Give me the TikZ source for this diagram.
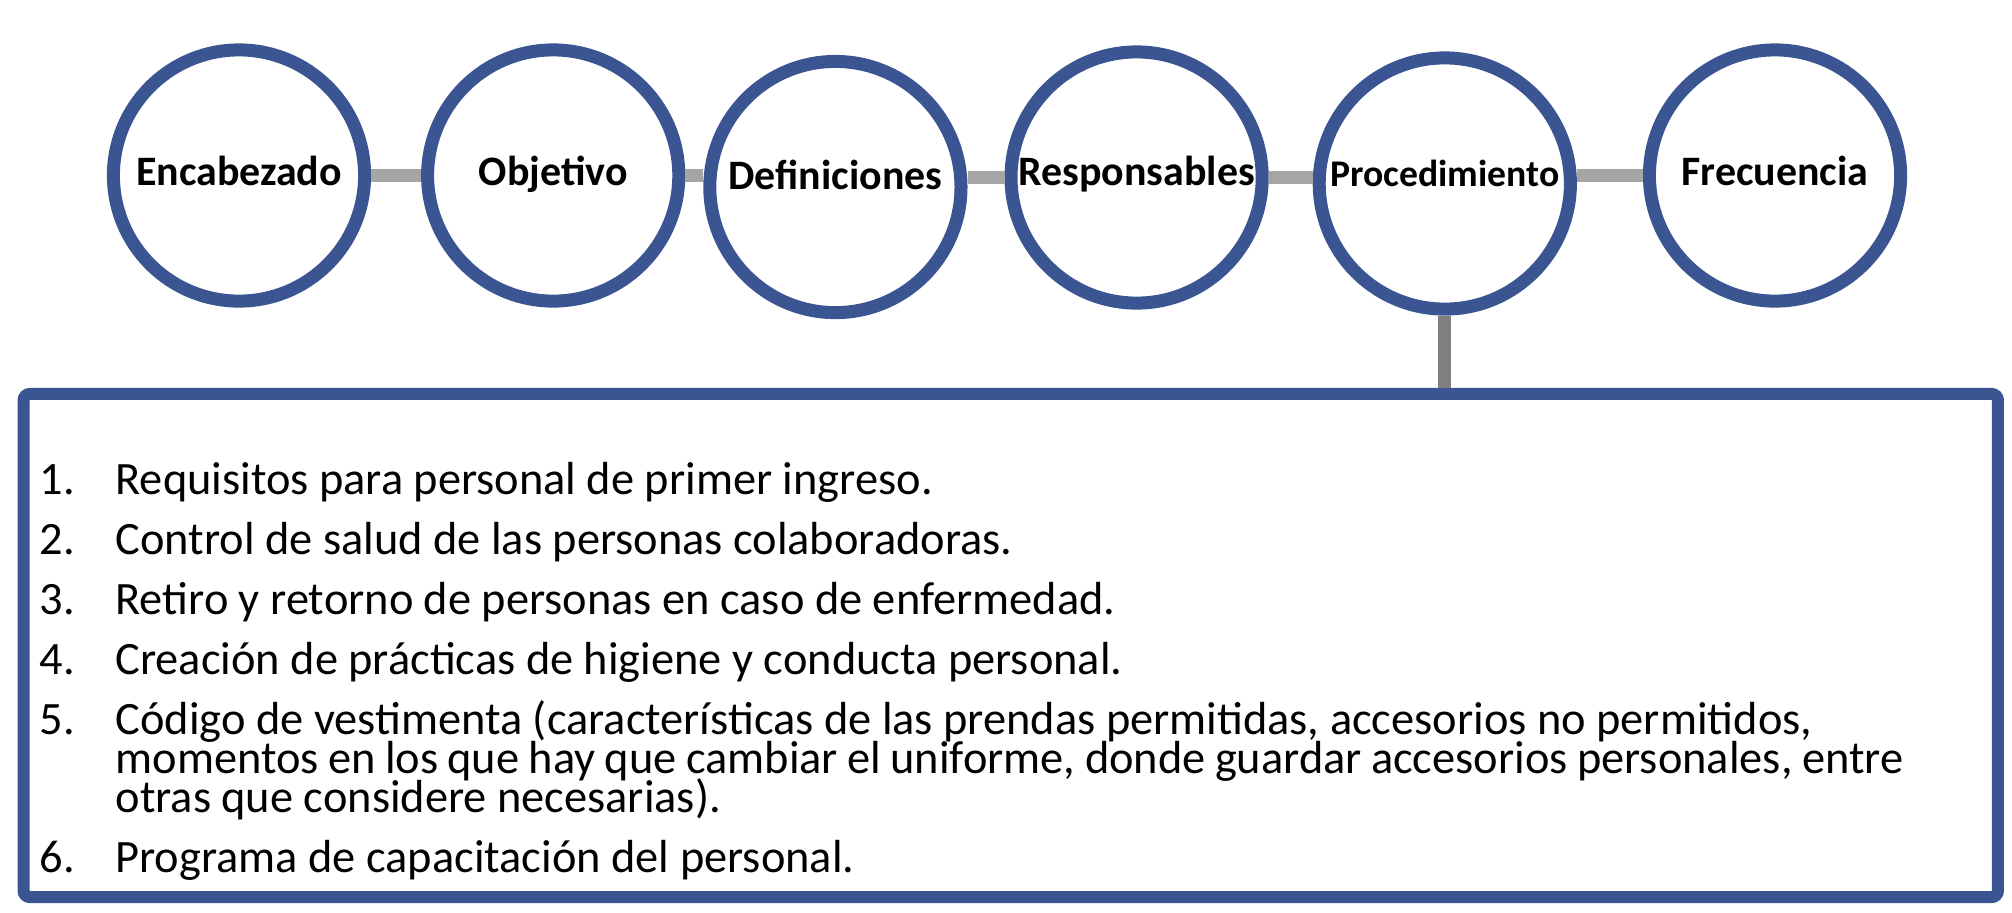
\documentclass[tikz,border=0pt]{standalone}
\usepackage{fontspec}
\setmainfont{Carlito}
\usetikzlibrary{positioning}
\definecolor{ringblue}{RGB}{58,85,145}
\definecolor{linkgray}{RGB}{165,165,165}
\definecolor{dropgray}{RGB}{127,127,127}
\tikzstyle{stage} = [circle, draw=ringblue, line width=0.1625cm, fill=white, minimum size=3.14cm, inner sep=0pt, text height=0.36cm, text depth=0.11cm, font=\bfseries\fontsize{14.9pt}{17pt}\selectfont]
\tikzstyle{detail} = [rectangle, draw=ringblue, line width=0.15cm, rounded corners=0.08cm, minimum width=24.68cm, minimum height=6.29cm]
\tikzstyle{link} = [draw=linkgray, line width=0.17cm]
\tikzstyle{drop} = [draw=dropgray, line width=0.16cm]
\newcommand{\procitem}[2]{\noindent\hangindent=0.95cm\hangafter=1\makebox[0.95cm][l]{#1}#2\par}

\begin{document}
\begin{tikzpicture}
    \useasboundingbox (0,0) rectangle (25.15,11.4);

    \node(enc)[stage] at (2.9875,9.206) {Encabezado};
    \node(obj)[stage, right=0.625cm of enc]{Objetivo};
    \node(defs)[stage, right=0.225cm of obj, yshift=-0.144cm, text depth=0.29cm]{Definiciones};
    \node(resp)[stage, right=0.4625cm of defs, yshift=0.119cm, text depth=0.16cm]{Responsables};
    \node(proc)[stage, right=0.55cm of resp, yshift=-0.075cm, text depth=0.29cm, font=\bfseries\fontsize{13.4pt}{16pt}\selectfont]{Procedimiento};
    \node(frec)[stage, right=0.825cm of proc, yshift=0.1cm]{Frecuencia};

    \node(detail)[detail] at (12.634,3.331) {};

    \node(items)[anchor=base west, inner sep=0pt] at (0.4875,5.22) {\begin{minipage}[t]{23.3cm}
        \fontsize{16.5pt}{13.87pt}\selectfont\lineskiplimit=-\maxdimen\parskip=7.47pt\raggedright
        \procitem{1.}{Requisitos para personal de primer ingreso.}
        \procitem{2.}{Control de salud de las personas colaboradoras.}
        \procitem{3.}{Retiro y retorno de personas en caso de enfermedad.}
        \procitem{4.}{Creación de prácticas de higiene y conducta personal.}
        \procitem{5.}{Código de vestimenta (características de las prendas permitidas, accesorios no permitidos,\newline momentos en los que hay que cambiar el uniforme, donde guardar accesorios personales, entre\newline otras que considere necesarias).}
        \procitem{6.}{Programa de capacitación del personal.}
    \end{minipage}};

    \draw[link] (enc.east) -- (obj.west);
    \draw[link] (obj.east) -- (obj.east -| defs.west);
    \draw[link] (defs.east |- resp.west) -- (resp.west);
    \draw[link] (resp.east) -- (resp.east -| proc.west);
    \draw[link] (frec.west -| proc.east) -- (frec.west);
    \draw[drop] (proc.south) -- (proc.south |- detail.north);

\end{tikzpicture}
\end{document}
